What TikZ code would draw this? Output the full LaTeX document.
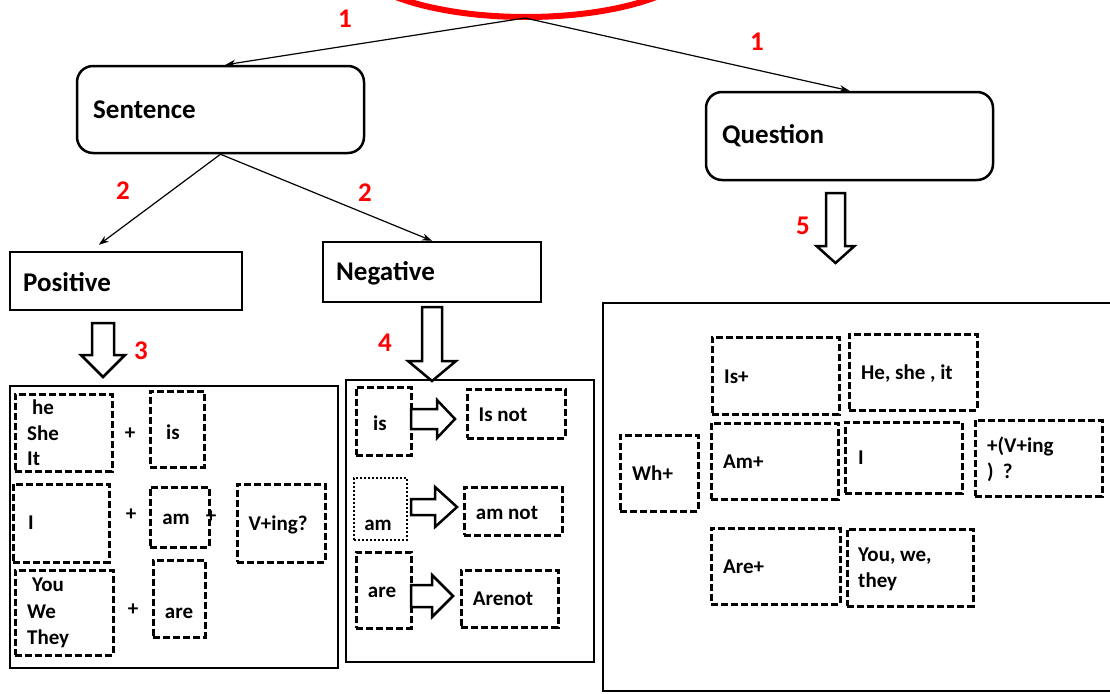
\documentclass[tikz,border=0pt]{standalone}
\usepackage{fontspec}
\setmainfont{Carlito}
\usetikzlibrary{arrows.meta}

\tikzset{
  frame/.style={draw, line width=2.4pt, inner sep=0pt},
  roundframe/.style={draw, line width=2.5pt, rounded corners=16pt, inner sep=0pt},
  dbox/.style={draw, line width=3pt, dash pattern=on 7pt off 3pt, inner sep=0pt},
  dotbox/.style={draw, line width=2.2pt, dash pattern=on 2pt off 2pt, inner sep=0pt},
  bigtxt/.style={font=\fontsize{27}{32}\selectfont\bfseries, inner sep=0pt},
  txt/.style={font=\fontsize{21}{26}\selectfont\bfseries, inner sep=0pt, align=left},
  num/.style={text=red, font=\fontsize{27}{32}\selectfont\bfseries, inner sep=0pt},
  conn/.style={line width=1.2pt, -{Stealth[length=10pt,width=7pt]}},
  blockline/.style={draw, fill=white, line width=2.5pt, line join=miter},
  % hollow block arrow: shaft half width, head half width, shaft length, head length
  pics/blockarrow/.style n args={4}{code={
      \path[blockline] (-#1,0) -- (#1,0) -- (#1,#3) -- (#2,#3) -- (0,#3+#4)
        -- (-#2,#3) -- (-#1,#3) -- cycle;}},
}

% box node given by its corners (left, top, right, bottom)
\newcommand\cornerbox[6][]{%
  \node[#1, minimum width={#5-#3}, minimum height={#6-#4}] (#2)
    at ({(#3+#5)/2},{(#4+#6)/2}) {};}

\begin{document}
\begin{tikzpicture}[x=1pt,y=-1pt]
\useasboundingbox (0,0) rectangle (1110,693);
\clip (0,0) rectangle (1110,693);

% red oval at the top
\draw[red, line width=6pt] (526,-45) ellipse [x radius=177, y radius=62];
\coordinate (apex) at (525,18);

% main boxes
\cornerbox[roundframe]{sentence}{77}{66}{364}{153}
\cornerbox[roundframe]{question}{706}{92}{993}{180}
\cornerbox[frame]{positive}{10}{252}{242}{310}
\cornerbox[frame]{negative}{323}{242}{541}{302}

\node[bigtxt, anchor=west] (sentencet) at (93,110) {Sentence};
\node[bigtxt, anchor=west] (questiont) at (722,136) {Question};
\node[bigtxt, anchor=west] (positivet) at (23,282) {Positive};
\node[bigtxt, anchor=west] (negativet) at (336,273) {Negative};

% connectors
\draw[conn] (apex) -- ([xshift=5pt]sentence.north);
\draw[conn] (apex) -- (question.north);
\draw[conn] (sentence.south) -- ([xshift=90pt,yshift=6pt]positive.north west);
\draw[conn] (sentence.south) -- (negative.north);

% step numbers
\node[num] (n1a) at (345,19) {1};
\node[num] (n1b) at (757,42) {1};
\node[num] (n2a) at (123,191) {2};
\node[num] (n2b) at (365,193) {2};
\node[num] (n3) at (141,351) {3};
\node[num] (n4) at (385,343) {4};
\node[num] (n5) at (803,226) {5};

% outer panels
\cornerbox[frame]{posgrid}{10}{386}{338}{668}
\cornerbox[frame]{neggrid}{346}{380}{594}{662}
\cornerbox[frame]{quesgrid}{603}{303}{1125}{691}

% down arrows
\pic at (103,323) {blockarrow={11}{22}{32}{22}};
\pic at (432,307) {blockarrow={10}{24}{54}{20}};
\pic at (835.5,193) {blockarrow={9.5}{19}{53}{17}};

% positive panel
\cornerbox[dbox]{hsi}{15}{394}{112}{471}
\cornerbox[dbox]{isb}{150}{391}{204}{467}
\cornerbox[dbox]{ib}{13}{484}{109}{562}
\cornerbox[dbox]{amb}{150}{487}{209}{547}
\cornerbox[dbox]{vingb}{237}{484}{325}{562}
\cornerbox[dbox]{ywt}{15}{570}{113}{655}
\cornerbox[dbox]{areb}{153}{560}{205}{637}

\node[txt, anchor=west, font=\fontsize{21}{25.5}\selectfont\bfseries] (hsit) at (27,433) {\hspace*{5pt}he\\She\\It};
\node[txt] (plus1) at (130,434) {+};
\node[txt] (ist) at (173,432) {is};
\node[txt, anchor=west] (it) at (28,523) {I};
\node[txt] (plus2) at (131,515) {+};
\node[txt] (amt) at (176,519) {am};
\node[txt] (plus3) at (211,517) {+};
\node[txt] (vingt) at (278,525) {V+ing?};
\node[txt, anchor=west, font=\fontsize{21}{26.5}\selectfont\bfseries] (ywtt) at (27,613) {\hspace*{5pt}You\\We\\They};
\node[txt] (plus4) at (133,610) {+};
\node[txt] (aret) at (179,613) {are};

% negative panel
\cornerbox[dbox]{nis}{356}{387}{411}{455}
\cornerbox[dbox]{nisnot}{467}{389}{565}{438}
\cornerbox[dotbox]{nam}{354}{478}{407}{540}
\cornerbox[dbox]{namnot}{464}{487}{562}{535}
\cornerbox[dbox]{nare}{356}{552}{411}{628}
\cornerbox[dbox]{narenot}{461}{570}{558}{627}

\pic[rotate=90] at (411,419) {blockarrow={10}{19}{26}{18}};
\pic[rotate=90] at (411,507) {blockarrow={8}{20}{24}{22}};
\pic[rotate=90] at (411,596) {blockarrow={11}{21}{21}{21}};

\node[txt] (nist) at (380,423) {is};
\node[txt] (nisnott) at (503,415) {Is not};
\node[txt] (namt) at (378,525) {am};
\node[txt] (namnott) at (507,513) {am not};
\node[txt] (naret) at (382,592) {are};
\node[txt] (narenott) at (503,599) {Arenot};

% question panel
\cornerbox[dbox]{qis}{712}{337}{839}{414}
\cornerbox[dbox]{qhe}{849}{334}{977}{410}
\cornerbox[dbox]{qwh}{620}{435}{698}{511}
\cornerbox[dbox]{qam}{711}{423}{838}{499}
\cornerbox[dbox]{qi}{845}{422}{962}{493}
\cornerbox[dbox]{qving}{975}{420}{1102}{496}
\cornerbox[dbox]{qare}{711}{528}{840}{604}
\cornerbox[dbox]{qyou}{847}{529}{973}{606}

\node[txt, anchor=west] (qist) at (724,377) {Is+};
\node[txt, anchor=west] (qhet) at (861,374) {He, she , it};
\node[txt, anchor=west] (qwht) at (632,473) {Wh+};
\node[txt, anchor=west] (qamt) at (723,462) {Am+};
\node[txt, anchor=west] (qit) at (858,458) {I};
\node[txt, anchor=west] (qvingt) at (987,459) {+(V+ing\\)\hspace{9pt}?};
\node[txt, anchor=west] (qaret) at (723,567) {Are+};
\node[txt, anchor=west] (qyout) at (858,569) {You, we,\\they};
\end{tikzpicture}
\end{document}
